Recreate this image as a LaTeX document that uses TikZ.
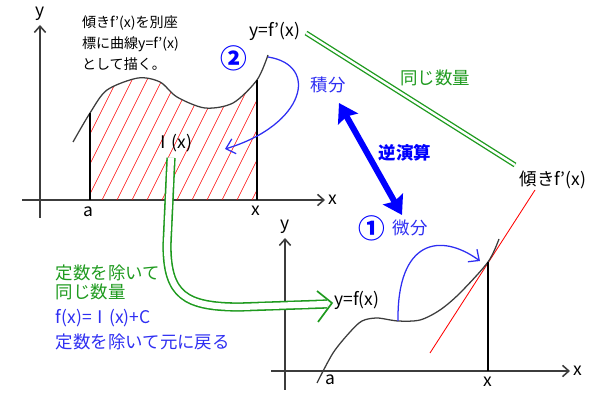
\documentclass[tikz,border=0pt]{standalone}
\usepackage{fontspec}
\setmainfont{Noto Sans CJK JP}
\usetikzlibrary{arrows.meta}
\definecolor{diffBlue}{HTML}{2E2EF2}
\definecolor{diffGreen}{HTML}{1E9A1E}
\definecolor{diffGray}{HTML}{3C3C3C}
\tikzset{
  diff diagram/.style={
    x=0.025cm, y=-0.025cm,
    every node/.style={font=\fontsize{12.4}{14}\selectfont,
      text=black, inner sep=0pt, outer sep=0pt}
  },
  diff axis/.style={draw=diffGray, line width=1.1pt,
    -{Straight Barb[length=4.5pt,width=8pt]}},
  diff curve/.style={draw=diffGray, line width=0.9pt},
  diff bound/.style={draw=black, line width=1.1pt},
  diff hatch/.style={draw=red, line width=0.45pt},
  diff turn/.style={draw=diffBlue, line width=0.9pt,
    -{Straight Barb[length=6pt,width=11pt]}},
  diff same/.style={draw=diffGreen, double=white, line width=0.95pt,
    double distance=1.7pt},
  diff flow/.style={draw=diffGreen, double=white, line width=1.1pt,
    double distance=4.4pt},
  diff inverse/.style={draw=blue, line width=4.3pt,
    {Stealth[length=13pt,width=16pt,inset=2pt]}-{Stealth[length=13pt,width=16pt,inset=2pt]}},
  diff circ/.style={text=blue, font=\bfseries\fontsize{19}{20}\selectfont},
  diff note/.style={anchor=west, font=\fontsize{10}{12}\selectfont}
}
\newcommand{\DiffAxes}[7]{%
  \draw[diff axis] (#4,#3) -- (#5,#3);
  \draw[diff axis] (#2,#6) -- (#2,#7);
  \node[anchor=west] (#1x) at (#5+3,#3) {x};
  \node[anchor=south] (#1y) at (#2,#7-4) {y};
}

\begin{document}
\begin{tikzpicture}[diff diagram]
  \useasboundingbox (0,0) rectangle (600,400);

  % integral side
  \DiffAxes{up}{40}{200}{22}{325}{218}{25}
  \begin{scope}
    \clip (90,200) -- plot[smooth] coordinates {(90,113) (107,90) (138,78)
      (160,82) (177,97) (205,108) (233,103) (257,80)} -- (257,200) -- cycle;
    \foreach \k in {42,57,...,252}
      \draw[diff hatch] (\k,200) -- ++(100,-200);
  \end{scope}
  \draw[diff curve] plot[smooth] coordinates {(73,142) (90,113) (107,90)
    (138,78) (160,82) (177,97) (205,108) (233,103) (257,80) (268,55)};
  \draw[diff bound] (90,200) -- (90,113);
  \draw[diff bound] (257,200) -- (257,80);
  \node (upa) at (88,212) {a};
  \node (upxx) at (256,211) {x};
  \node (Ix) at (173,143) {Ⅰ(x)};
  \node (yfp) at (275,31) {y=f’(x)};
  \node[diff note] (note1) at (82,23) {傾きf’(x)を別座};
  \node[diff note] (note2) at (82,44) {標に曲線y=f’(x)};
  \node[diff note] (note3) at (82,64) {として描く。};
  \node[diff circ] (two) at (234,58) {②};
  \coordinate (fpTop) at (268,57);
  \coordinate (fpIn) at (225,149);
  \draw[diff turn] (fpTop) .. controls (320,65) and (305,125) .. (fpIn);
  \node[text=diffBlue] (seki) at (328,85) {積分};

  % inverse pair
  \coordinate (invTop) at (339,103);
  \coordinate (invBot) at (402,215);
  \draw[diff inverse] (invTop) -- (invBot);
  \node[text=blue, font=\bfseries\fontsize{12.4}{14}\selectfont] (gyaku) at (405,153) {逆演算};
  \node (slope) at (553,180) {傾きf’(x)};
  \coordinate (sameA) at (306,33);
  \coordinate (sameB) at (515,165);
  \draw[diff same] (sameA) -- (sameB);
  \node[text=diffGreen] (same) at (435,78) {同じ数量};

  % derivative side
  \DiffAxes{dn}{285}{371}{271}{570}{390}{238}
  \draw[red, line width=0.6pt] (430,353) -- (535,190);
  \draw[diff curve] plot[smooth] coordinates {(317,383) (333,353) (350,332)
    (362,321) (377,318) (398,321) (420,320) (440,310) (460,293) (488,262)
    (499,239)};
  \draw[diff bound] (488,371) -- (488,262);
  \node (dna) at (330,380) {a};
  \node (dnxx) at (488,382) {x};
  \node (yf) at (357,300) {y=f(x)};
  \node[diff circ] (one) at (372,228) {①};
  \node[text=diffBlue] (bibun) at (410,228) {微分};
  \coordinate (fFlat) at (398,321);
  \coordinate (fTan) at (480,261);
  \draw[diff turn] (fFlat) .. controls (397,240) and (440,232) .. (fTan);

  % constant dropped
  \coordinate (flowEnd) at (327,304);
  \draw[diff flow] (Ix.south) ++(-2,6) -- (167,245)
    .. controls (167,295) and (185,307) .. (240,307) -- (flowEnd);
  \draw[diffGreen, line width=1.2pt] (317,291) -- (332,303) -- (318,322);
  \node[anchor=west, text=diffGreen] (c1) at (56,273) {定数を除いて};
  \node[anchor=west, text=diffGreen] (c2) at (56,292) {同じ数量};
  \node[anchor=west, text=diffBlue] (c3) at (56,318) {f(x)=Ⅰ(x)+C};
  \node[anchor=west, text=diffBlue] (c4) at (56,342) {定数を除いて元に戻る};
\end{tikzpicture}
\end{document}
